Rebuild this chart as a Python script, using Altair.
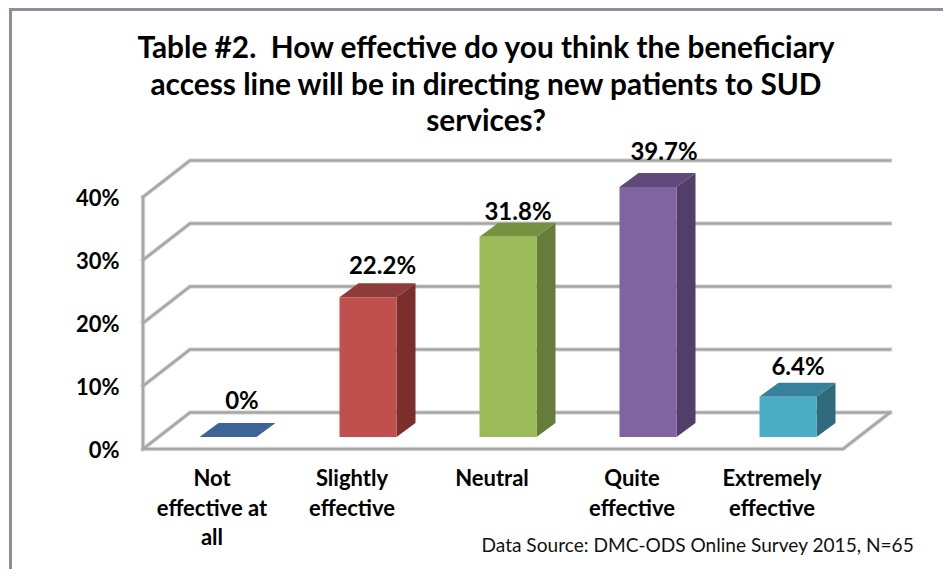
import altair as alt
import pandas as pd

# ---- chart values ----
categories = ["Not effective at all", "Slightly effective", "Neutral", "Quite effective", "Extremely effective"]
category_lines = [["Not", "effective at", "all"], ["Slightly", "effective"], ["Neutral"], ["Quite", "effective"], ["Extremely", "effective"]]
values = [0, 22.2, 31.8, 39.7, 6.4]
value_labels = ["0%", "22.2%", "31.8%", "39.7%", "6.4%"]
ticks = [0, 10, 20, 30, 40]
title_lines = ["Table #2.\u00a0 How effective do you think the beneficiary",
               "access line will be in directing new patients to SUD",
               "services?"]
source_note = "Data Source: DMC-ODS Online Survey 2015, N=65"

# ---- colours ----
front_cols = ["#3f6797", "#c0504d", "#9bbb59", "#8064a2", "#4bacc6"]
top_cols = ["#3d6496", "#8f3b39", "#769240", "#5f4a79", "#38819a"]
side_cols = ["#2f4b70", "#7a2f2d", "#657c3a", "#523f69", "#2f6b7d"]
GRID = "#a6a6a6"
FONT = "Lato"

# ---- layout (page pixels -> scale units) ----
W, H = 935, 561
PX_PER_VAL = 6.3
PX_PER_CAT = 140.0
X0_PAGE, Y0_PAGE = 228.0, 449.0


def ix(px):
    return (px - X0_PAGE) / PX_PER_CAT


def vy(py):
    return (Y0_PAGE - py) / PX_PER_VAL


xs = alt.Scale(domain=[ix(8), ix(8 + W)], range=[0, W], nice=False, zero=False)
ys = alt.Scale(domain=[vy(8 + H), vy(8)], range=[H, 0], nice=False, zero=False)
y_axis = alt.Axis(
    values=ticks, title=None, domain=False, ticks=False, grid=False, offset=-111, labelPadding=0,
    labelExpr="datum.value + '%'", labelFont=FONT, labelFontSize=22, labelFontWeight="bold",
    labelColor="#000000", labelAlign="right", labelBaseline="middle", labelOffset=1.5)
X = alt.X("x:Q", scale=xs, axis=None)
Y = alt.Y("y:Q", scale=ys, axis=y_axis)

BAR_W = 57 / PX_PER_CAT
BAR_DX = 19 / PX_PER_CAT
BAR_DY = 14 / PX_PER_VAL
BASE = vy(437)
WALL_DX = 47 / PX_PER_CAT
WALL_DY = 36.5 / PX_PER_VAL
WALL_L = ix(143)
WALL_R = ix(843)

# ---- wall and floor lines ----
grid_rows = []
for t in ticks:
    grid_rows += [dict(g=f"s{t}", x=WALL_L, y=t), dict(g=f"s{t}", x=WALL_L + WALL_DX, y=t + WALL_DY),
                  dict(g=f"s{t}", x=WALL_R + WALL_DX, y=t + WALL_DY)]
grid_rows += [dict(g="v", x=WALL_L, y=ticks[0]), dict(g="v", x=WALL_L, y=ticks[-1])]
grid_rows += [dict(g="f", x=WALL_L, y=0), dict(g="f", x=WALL_R, y=0), dict(g="f", x=WALL_R + WALL_DX, y=WALL_DY)]
grid_df = pd.DataFrame(grid_rows)
grid_df["o"] = range(len(grid_df))

grid_halo = alt.Chart(grid_df).mark_line(color="#dedede", strokeWidth=4.5, strokeCap="square").encode(
    x=X, y=Y, detail="g:N", order="o:Q")
grid = alt.Chart(grid_df).mark_line(color=GRID, strokeWidth=2.6, strokeCap="square").encode(
    x=X,
    y=Y,
    detail="g:N",
    order="o:Q",
)

# ---- bars ----
front_rows, face_rows = [], []
for i, v in enumerate(values):
    left = ix(X0_PAGE + PX_PER_CAT * i) - BAR_W / 2
    right = left + BAR_W
    top = BASE + v
    front_rows.append(dict(c=categories[i], x=left, x2=right, y=BASE, y2=top, col=f"f{i}"))
    k = f"t{i}"
    face_rows += [dict(k=k, x=left, y=top, y2=top), dict(k=k, x=left + BAR_DX, y=top + BAR_DY, y2=top),
                  dict(k=k, x=right, y=top + BAR_DY, y2=top), dict(k=k, x=right + BAR_DX, y=top + BAR_DY, y2=top + BAR_DY)]
    if v > 0:
        k = f"s{i}"
        face_rows += [dict(k=k, x=right, y=top, y2=BASE), dict(k=k, x=right + BAR_DX, y=top + BAR_DY, y2=BASE + BAR_DY)]

face_keys = [f"f{i}" for i in range(5)] + [f"t{i}" for i in range(5)] + [f"s{i}" for i in range(5)]
colour = alt.Scale(domain=face_keys, range=front_cols + top_cols + side_cols)

faces = alt.Chart(pd.DataFrame(face_rows)).mark_area(interpolate="linear").encode(
    x=X, y=Y, y2="y2:Q", detail="k:N",
    color=alt.Color("k:N", scale=colour, legend=None),
)
fronts = alt.Chart(pd.DataFrame([r for r, v in zip(front_rows, values) if v > 0])).mark_rect().encode(
    x=X, x2="x2:Q", y=Y, y2="y2:Q",
    color=alt.Color("col:N", scale=colour, legend=None),
)

# ---- value labels: centred above each bar's top face ----
label_nudge = [(15, -22), (15.5, -17), (11, -11), (17, -21), (11, -16)]
label_df = pd.DataFrame([
    dict(t=value_labels[i],
         x=ix(X0_PAGE + PX_PER_CAT * i + label_nudge[i][0]),
         y=BASE + values[i] + BAR_DY - label_nudge[i][1] / PX_PER_VAL)
    for i in range(5)])
labels = alt.Chart(label_df).mark_text(font=FONT, fontSize=24, fontWeight="bold", color="#000000",
                                       baseline="middle", dy=1, dx=-1).encode(x=X, y=Y, text="t:N")

# ---- category labels ----
cat_rows = []
for i, lines in enumerate(category_lines):
    for j, line in enumerate(lines):
        cat_rows.append(dict(t=line, x=ix(212 + PX_PER_CAT * i), y=vy(478 + 29.5 * j)))
cats = alt.Chart(pd.DataFrame(cat_rows)).mark_text(font=FONT, fontSize=22, fontWeight="bold", color="#000000",
                                                   baseline="middle", dy=1).encode(x=X, y=Y, text="t:N")

# ---- source note ----
src = alt.Chart(pd.DataFrame([dict(t=source_note, x=ix(481.5), y=vy(545))])).mark_text(
    font=FONT, fontSize=19.1, color="#111111", align="left", baseline="middle", dy=1).encode(x=X, y=Y, text="t:N")

# ---- frame ----
frame_l = alt.Chart(pd.DataFrame([dict(a=1)])).mark_rule(color="#8a8f99", strokeWidth=3).encode(
    x=alt.value(2.5), y=alt.value(0), y2=alt.value(H))
frame_t = alt.Chart(pd.DataFrame([dict(a=1)])).mark_rule(color="#8a8f99", strokeWidth=3).encode(
    y=alt.value(1.5), x=alt.value(1), x2=alt.value(W))

chart = alt.layer(frame_l, frame_t, grid_halo, grid, faces, fronts, labels, cats, src).properties(
    width=W, height=H,
    padding=0,
    autosize=alt.AutoSizeParams(type="none"),
    background="#ffffff",
    title=alt.Title(text=title_lines, font=FONT, fontSize=29.8, fontWeight="bold", color="#000000",
                    lineHeight=36.5, anchor="middle", frame="group", baseline="top",
                    offset=-130.5, dx=10.5),
).configure_view(stroke=None)

chart.save("out.html", embed_options={"renderer": "svg", "actions": False})
